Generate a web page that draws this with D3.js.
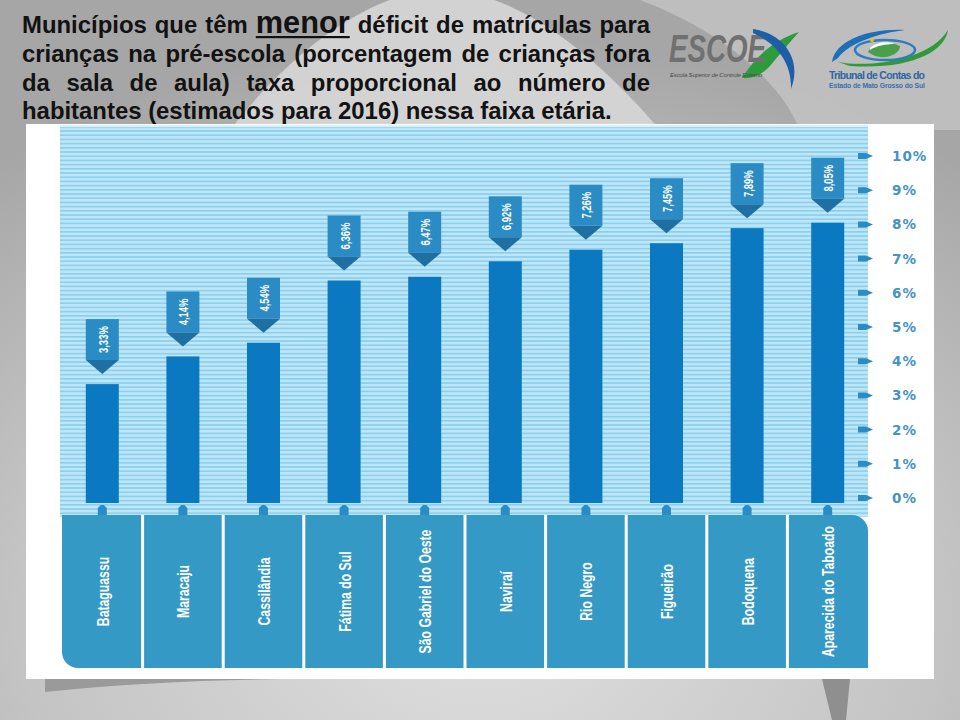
<!DOCTYPE html>
<html><head><meta charset="utf-8">
<script src="https://cdn.jsdelivr.net/npm/d3@7"></script>
<style>body{margin:0;background:#c4c4c4}svg{display:block}</style>
</head><body><svg id="c" width="960" height="720"></svg>
<script>
// ---------- DATA ----------
const categories = ["Bataguassu","Maracaju","Cassilândia","Fátima do Sul","São Gabriel do Oeste","Naviraí","Rio Negro","Figueirão","Bodoquena","Aparecida do Taboado"];
const values = [3.33, 4.14, 4.54, 6.36, 6.47, 6.92, 7.26, 7.45, 7.89, 8.05];
const valueLabels = ["3,33%","4,14%","4,54%","6,36%","6,47%","6,92%","7,26%","7,45%","7,89%","8,05%"];
const tickValues = [0,1,2,3,4,5,6,7,8,9,10];
const tickLabels = ["0%","1%","2%","3%","4%","5%","6%","7%","8%","9%","10%"];
const titleLines = [
  "Municípios que têm menor déficit de matrículas para",
  "crianças na pré-escola (porcentagem de crianças fora",
  "da sala de aula) taxa proporcional ao número de",
  "habitantes (estimados para 2016) nessa faixa etária."
];
const emphasisWord = "menor";

// ---------- SETUP ----------
const svg = d3.select("#c");
const defs = svg.append("defs");

const bg = defs.append("radialGradient").attr("id","bg").attr("cx","0.5").attr("cy","0.85").attr("r","0.8");
bg.append("stop").attr("offset","0").attr("stop-color","#e0e0e0");
bg.append("stop").attr("offset","0.6").attr("stop-color","#c4c4c4");
bg.append("stop").attr("offset","1").attr("stop-color","#a6a6a6");

const pat = defs.append("pattern").attr("id","stripes").attr("patternUnits","userSpaceOnUse")
  .attr("width",10).attr("height",4.2);
pat.append("rect").attr("width",10).attr("height",4.2).attr("fill","#bde6f8");
pat.append("rect").attr("y",0).attr("width",10).attr("height",1.6).attr("fill","#8ccfeb");

svg.append("rect").attr("width",960).attr("height",720).attr("fill","url(#bg)");
svg.append("path").attr("d","M230,130 C300,40 380,-10 440,-10 C520,-10 600,60 660,130 Z").attr("fill","#d9d9d9").attr("opacity",0.85);
svg.append("path").attr("d","M640,0 C720,30 780,80 800,130 L960,130 L960,0 Z").attr("fill","#cfcfcf").attr("opacity",0.6);
svg.append("path").attr("d","M45,692 C120,684 200,680 282,679 L45,679 Z").attr("fill","#9a9a9a");
svg.append("path").attr("d","M822,679 L850,679 L846,720 L832,720 Z").attr("fill","#8f8f8f");

function condense(sel, factor) {
  sel.each(function() {
    const w = this.getComputedTextLength();
    d3.select(this).attr("textLength", w * factor).attr("lengthAdjust", "spacingAndGlyphs");
  });
}

// ---------- TITLE (justified) ----------
const FONT = "'Liberation Sans', Arial, sans-serif";
const titleG = svg.append("g").attr("font-family", FONT).attr("font-weight","bold").attr("fill","#121212");
const left = 22, right = 650, lastLineEnd = 612;
const probe = titleG.append("text").attr("font-size",20).text(titleLines[3]);
const baseSize = 20 * (lastLineEnd - left) / probe.node().getComputedTextLength();
probe.remove();
const probe2 = titleG.append("text").attr("font-size",20).text(emphasisWord);
const emSize = 20 * 94 / probe2.node().getComputedTextLength();
probe2.remove();
const baselines = [33, 62, 91, 119];
titleLines.forEach((line, li) => {
  const words = line.split(" ");
  const nodes = words.map(w => titleG.append("text").attr("y", baselines[li])
      .attr("font-size", w === emphasisWord ? emSize : baseSize).text(w));
  const widths = nodes.map(n => n.node().getComputedTextLength());
  const total = d3.sum(widths);
  const justify = li < titleLines.length - 1;
  const gap = justify ? (right - left - total) / (words.length - 1) : baseSize * 0.278;
  let x = left;
  nodes.forEach((n, i) => {
    n.attr("x", x);
    if (words[i] === emphasisWord) {
      titleG.append("rect").attr("x", x).attr("y", baselines[li] + 3).attr("width", widths[i]).attr("height", 2.2).attr("fill","#121212");
    }
    x += widths[i] + gap;
  });
});

// ---------- LOGOS ----------
const logo = svg.append("g");
logo.append("path").attr("d","M742,78 C756,56 774,40 799,32 C790,42 780,54 770,66 C762,75 752,79 742,78 Z").attr("fill","#2e9a3e");
logo.append("text").attr("x",669).attr("y",62).attr("font-family",FONT)
  .attr("font-weight","bold").attr("font-style","italic").attr("font-size",38).attr("fill","#707070")
  .attr("textLength",97).attr("lengthAdjust","spacingAndGlyphs").text("ESCOE");
logo.append("path").attr("d","M753,29 C782,33 803,58 791,89 C792,64 778,44 753,33 Z").attr("fill","#1d5fa6");
logo.append("text").attr("x",670).attr("y",77).attr("font-family",FONT)
  .attr("font-style","italic").attr("font-size",6).attr("fill","#4a4a4a").attr("textLength",92).text("Escola Superior de Controle Externo");

logo.append("path").attr("d","M832,62 C835,40 870,28 905,30 C880,33 850,42 838,58 Z").attr("fill","#1f6fb8");
logo.append("path").attr("d","M838,62 C870,68 930,60 948,30 C945,52 910,70 850,66 Z").attr("fill","#2f9a3a");
logo.append("ellipse").attr("cx",885).attr("cy",50).attr("rx",30).attr("ry",10).attr("fill","none").attr("stroke","#2a7dc0").attr("stroke-width",2.5);
logo.append("path").attr("d","M868,52 C872,42 890,40 900,46 C900,56 880,62 868,52 Z").attr("fill","#4aa04a");
logo.append("path").attr("d","M870,48 C876,42 888,41 895,44 C885,44 876,46 870,50 Z").attr("fill","#ffffff");
logo.append("circle").attr("cx",872).attr("cy",40).attr("r",2).attr("fill","#e8c21a");
logo.append("text").attr("x",829).attr("y",79).attr("font-family",FONT)
  .attr("font-weight","bold").attr("font-size",10.5).attr("fill","#2d67a4").attr("textLength",96).text("Tribunal de Contas do");
logo.append("text").attr("x",829).attr("y",88).attr("font-family",FONT)
  .attr("font-weight","bold").attr("font-size",6.8).attr("fill","#3a6fa8").attr("textLength",96).text("Estado de Mato Grosso do Sul");

// ---------- CHART PANEL ----------
svg.append("rect").attr("x",26).attr("y",124).attr("width",908).attr("height",555).attr("fill","#ffffff");
svg.append("rect").attr("x",60).attr("y",125).attr("width",808).attr("height",392).attr("fill","url(#stripes)");
svg.append("rect").attr("x",60).attr("y",125).attr("width",808).attr("height",2).attr("fill","#d4f1fc");

const x = d3.scaleBand().domain(categories).range([62, 868]);
const y = d3.scaleLinear().domain([0, 10]).range([498, 156]);
const barW = 33;
const data = categories.map((c, i) => ({c, v: values[i], label: valueLabels[i]}));

svg.append("g").selectAll("rect").data(data).join("rect")
  .attr("x", d => x(d.c) + x.bandwidth()/2 - barW/2)
  .attr("y", d => y(d.v))
  .attr("width", barW)
  .attr("height", d => y(0) + 5 - y(d.v))
  .attr("fill", "#0a79c2");

const call = svg.append("g").selectAll("g").data(data).join("g")
  .attr("transform", d => `translate(${x(d.c) + x.bandwidth()/2},${y(d.v) - 10})`);
call.append("rect").attr("x", -barW/2).attr("y", -55).attr("width", barW).attr("height", 41).attr("fill", "#2b8cc5");
call.append("path").attr("d", `M${-barW/2},-14 L${barW/2},-14 L0,0 Z`).attr("fill", "#1f6fa2");
const vl = call.append("text").attr("transform", "translate(1,-34.5) rotate(-90)")
  .attr("text-anchor","middle").attr("dominant-baseline","central")
  .attr("font-family", FONT)
  .attr("font-weight","bold").attr("font-size",13.5).attr("fill","#ffffff")
  .text(d => d.label);
condense(vl, 0.7);

const ax = svg.append("g").selectAll("g").data(tickValues).join("g")
  .attr("transform", d => `translate(0,${y(d)})`);
ax.append("path").attr("d","M858,-3 L866,-3 L873,0 L866,3 L858,3 Z").attr("fill","#2b8bc4");
ax.append("text").attr("x", 892).attr("dominant-baseline","central")
  .attr("font-family","'DejaVu Sans', Verdana, sans-serif").attr("font-weight","bold")
  .attr("font-size",13.5).attr("letter-spacing",1).attr("fill","#4592c4")
  .text((d, i) => tickLabels[i]);

svg.append("g").selectAll("path").data(data).join("path")
  .attr("d", d => { const c = x(d.c) + x.bandwidth()/2; return `M${c-4.5},515 L${c-4.5},508 L${c-1.5},505 L${c+1.5},505 L${c+4.5},508 L${c+4.5},515 Z`; })
  .attr("fill", "#2b8cc5");

const x0 = 62, x1 = 868, py0 = 515, py1 = 668, r = 16;
svg.append("path")
  .attr("d", `M${x0},${py0} H${x1 - r} A${r},${r} 0 0 1 ${x1},${py0 + r} V${py1} H${x0 + r} A${r},${r} 0 0 1 ${x0},${py1 - r} Z`)
  .attr("fill", "#3599c6");
svg.append("g").selectAll("line").data(categories.slice(1)).join("line")
  .attr("x1", d => x(d)).attr("x2", d => x(d))
  .attr("y1", py0).attr("y2", py1 + 1)
  .attr("stroke", "#ffffff").attr("stroke-width", 3);
const cl = svg.append("g").selectAll("text").data(categories).join("text")
  .attr("transform", d => `translate(${x(d) + x.bandwidth()/2 + 1},${(py0 + py1)/2}) rotate(-90)`)
  .attr("text-anchor","middle").attr("dominant-baseline","central")
  .attr("font-family", FONT)
  .attr("font-weight","bold").attr("font-size",17).attr("fill","#ffffff")
  .text(d => d);
condense(cl, 0.72);
</script></body></html>
